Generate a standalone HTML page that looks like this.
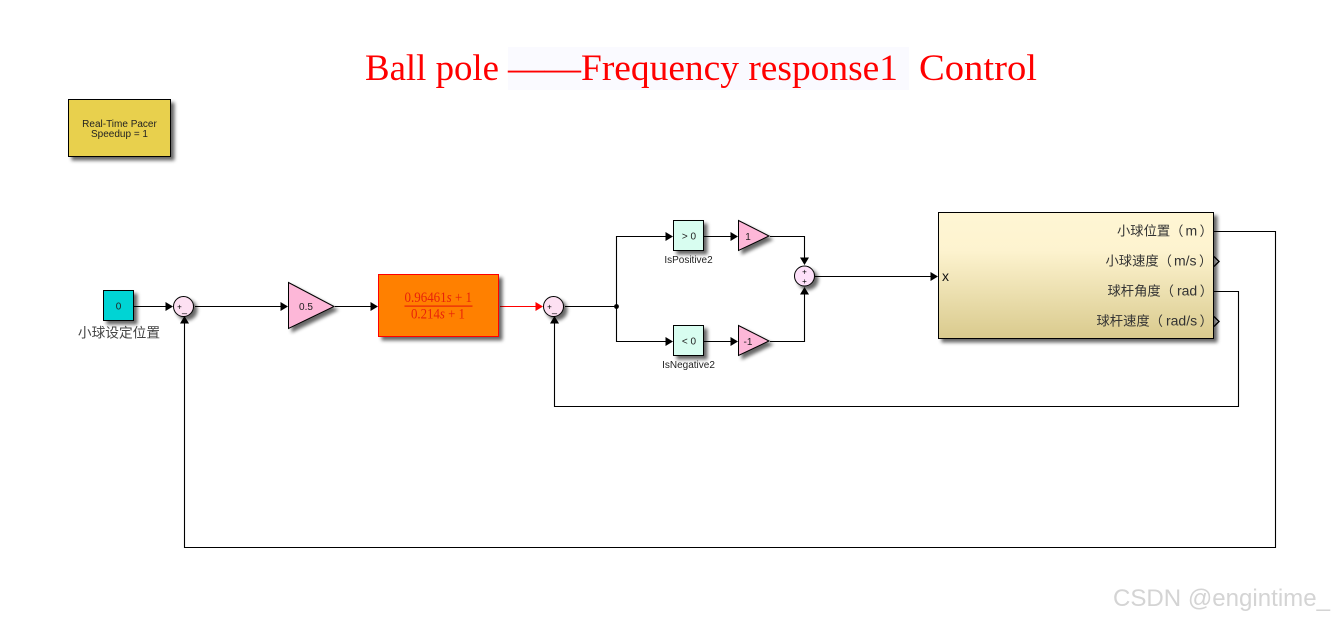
<!DOCTYPE html>
<html>
<head>
<meta charset="utf-8">
<style>
html,body{margin:0;padding:0;background:#fff;width:1333px;height:619px;overflow:hidden}
svg{display:block}
.a{font-family:"Liberation Sans",sans-serif}
.c{font-family:"Liberation Sans","Noto Sans CJK SC",sans-serif}
.s{font-family:"Liberation Serif",serif}
</style>
</head>
<body>
<svg width="1333" height="619" viewBox="0 0 1333 619" xmlns="http://www.w3.org/2000/svg">
<defs>
<filter id="sh" x="-30%" y="-30%" width="170%" height="170%"><feGaussianBlur in="SourceAlpha" stdDeviation="1.8"/><feOffset dx="3.5" dy="3.5"/><feComponentTransfer><feFuncA type="linear" slope="0.6"/></feComponentTransfer><feMerge><feMergeNode/><feMergeNode in="SourceGraphic"/></feMerge></filter>
<linearGradient id="g" x1="0" y1="0" x2="0" y2="1"><stop offset="0" stop-color="#fff6d4"/><stop offset="0.3" stop-color="#fdf3cf"/><stop offset="1" stop-color="#d9ca8d"/></linearGradient>
</defs>
<rect x="508" y="47" width="401" height="43" fill="#fafaff"/>
<g class="s" font-size="36.5" fill="#f00">
<text x="365" y="80" textLength="134" lengthAdjust="spacingAndGlyphs">Ball pole</text>
<text x="508" y="80" textLength="73" lengthAdjust="spacingAndGlyphs">——</text>
<text x="581" y="80" textLength="317" lengthAdjust="spacingAndGlyphs">Frequency response1</text>
<text x="919" y="80" textLength="118" lengthAdjust="spacingAndGlyphs">Control</text>
</g>

<rect x="68.5" y="99.5" width="102" height="57" fill="#e8d04e" stroke="#000" filter="url(#sh)"/>
<text class="a" x="119.5" y="127" font-size="10" text-anchor="middle" fill="#222">Real-Time Pacer</text>
<text class="a" x="119.5" y="137" font-size="10" text-anchor="middle" fill="#222">Speedup = 1</text>

<g fill="none" stroke="#000" stroke-width="1.1">
<path d="M134 306.5H166"/>
<path d="M195 306.5H281"/>
<path d="M335 306.5H371"/>
<path d="M565 306.5H616.5M616.5 306.5V236.5H666M616.5 306.5V341.5H666"/>
<path d="M704 236.5H731M704 341.5H731"/>
<path d="M770 236.5H804.5V258M770 341.5H804.5V294"/>
<path d="M815 276.5H931"/>
<path d="M1214 231.5H1275.5V547.5H184.5V323"/>
<path d="M1214 291.5H1238.5V406.5H554.5V323"/>
</g>
<path d="M500 306.5H536" fill="none" stroke="#f00" stroke-width="1.1"/>
<circle cx="616.5" cy="306.5" r="2.4" fill="#000"/>

<g fill="#000">
<path d="M165.5 302L173 306.5L165.5 311Z"/>
<path d="M280.5 302L288 306.5L280.5 311Z"/>
<path d="M370.5 302L378 306.5L370.5 311Z"/>
<path d="M665.5 232L673 236.5L665.5 241Z"/>
<path d="M665.5 337L673 341.5L665.5 346Z"/>
<path d="M730.5 232L738 236.5L730.5 241Z"/>
<path d="M730.5 337L738 341.5L730.5 346Z"/>
<path d="M800 257.5L809 257.5L804.5 265Z"/>
<path d="M800 294.5L809 294.5L804.5 287Z"/>
<path d="M930.5 272L938 276.5L930.5 281Z"/>
<path d="M180 323.5L189 323.5L184.5 316Z"/>
<path d="M550 323.5L559 323.5L554.5 316Z"/>
</g>
<path d="M535.5 302L543 306.5L535.5 311Z" fill="#f00"/>

<rect x="103.5" y="290.5" width="30" height="30" fill="#00d4d4" stroke="#000" filter="url(#sh)"/>
<text class="a" x="118.5" y="309.5" font-size="10" text-anchor="middle" fill="#222">0</text>
<text class="c" x="119" y="337.5" font-size="13.7" text-anchor="middle" fill="#444">小球设定位置</text>

<circle cx="183.5" cy="306.5" r="10" fill="#fde0f2" stroke="#000" filter="url(#sh)"/>
<text class="a" x="179.5" y="309.5" font-size="8" text-anchor="middle" fill="#000">+</text>
<text class="a" x="184.5" y="312" font-size="9" text-anchor="middle" fill="#000">_</text>

<path d="M288.5 282.5L334 306.5L288.5 328.5Z" fill="#fdb7d8" stroke="#000" filter="url(#sh)"/>
<text class="a" x="306" y="310" font-size="10" text-anchor="middle" fill="#222">0.5</text>

<rect x="378.5" y="274.5" width="120" height="62" fill="#ff8000" stroke="#f00" filter="url(#sh)"/>
<text class="s" x="404.5" y="302" font-size="15" fill="#e8220a" textLength="67.5" lengthAdjust="spacingAndGlyphs">0.96461<tspan font-style="italic">s</tspan> + 1</text>
<rect x="404.5" y="305.5" width="68" height="1.2" fill="#e8220a"/>
<text class="s" x="411" y="318.5" font-size="15" fill="#e8220a" textLength="54" lengthAdjust="spacingAndGlyphs">0.214<tspan font-style="italic">s</tspan> + 1</text>

<circle cx="553.5" cy="306.5" r="10" fill="#fde0f2" stroke="#000" filter="url(#sh)"/>
<text class="a" x="549.5" y="309.5" font-size="8" text-anchor="middle" fill="#000">+</text>
<text class="a" x="554.5" y="312" font-size="9" text-anchor="middle" fill="#000">_</text>

<rect x="673.5" y="220.5" width="30" height="30" fill="#d8fdf0" stroke="#000" filter="url(#sh)"/>
<text class="a" x="689" y="239.5" font-size="10" text-anchor="middle" fill="#222">&gt; 0</text>
<text class="a" x="688.5" y="263" font-size="10" text-anchor="middle" fill="#222">IsPositive2</text>
<rect x="673.5" y="325.5" width="30" height="30" fill="#d8fdf0" stroke="#000" filter="url(#sh)"/>
<text class="a" x="689" y="344.5" font-size="10" text-anchor="middle" fill="#222">&lt; 0</text>
<text class="a" x="688.5" y="368" font-size="10" text-anchor="middle" fill="#222">IsNegative2</text>

<path d="M738.5 220.5L769 236L738.5 250.5Z" fill="#fdb7d8" stroke="#000" filter="url(#sh)"/>
<text class="a" x="748" y="240" font-size="10" text-anchor="middle" fill="#222">1</text>
<path d="M738.5 325.5L769 341L738.5 355.5Z" fill="#fdb7d8" stroke="#000" filter="url(#sh)"/>
<text class="a" x="748" y="345" font-size="10" text-anchor="middle" fill="#222">-1</text>

<circle cx="804.5" cy="276" r="10" fill="#fde0f9" stroke="#000" filter="url(#sh)"/>
<text class="a" x="804.5" y="274.5" font-size="8" text-anchor="middle" fill="#000">+</text>
<text class="a" x="804.5" y="284" font-size="8" text-anchor="middle" fill="#000">+</text>

<rect x="938.5" y="212.5" width="275" height="126" fill="url(#g)" stroke="#000" filter="url(#sh)"/>
<text class="a" x="942" y="281" font-size="14" fill="#111">x</text>
<g class="c" font-size="13.3" fill="#333">
<text x="1117" y="235.5">小球位置（<tspan dx="2" font-size="14">m</tspan><tspan dx="2.5">）</tspan></text>
<text x="1105.5" y="265.5">小球速度（<tspan dx="2" font-size="14">m/s</tspan><tspan dx="2.5">）</tspan></text>
<text x="1107.5" y="295.5">球杆角度（<tspan dx="3" font-size="14">rad</tspan><tspan dx="2.5">）</tspan></text>
<text x="1096.5" y="325.5">球杆速度（<tspan dx="3" font-size="14">rad/s</tspan><tspan dx="2.5">）</tspan></text>
</g>
<path d="M1214 256.5L1219 261.5L1214 266.5M1214 316.5L1219 321.5L1214 326.5" fill="none" stroke="#000" stroke-width="1.4"/>

<text class="a" x="1113" y="606" font-size="24" fill="#d4d4d4" textLength="217" lengthAdjust="spacingAndGlyphs">CSDN @engintime_</text>
</svg>
</body>
</html>
